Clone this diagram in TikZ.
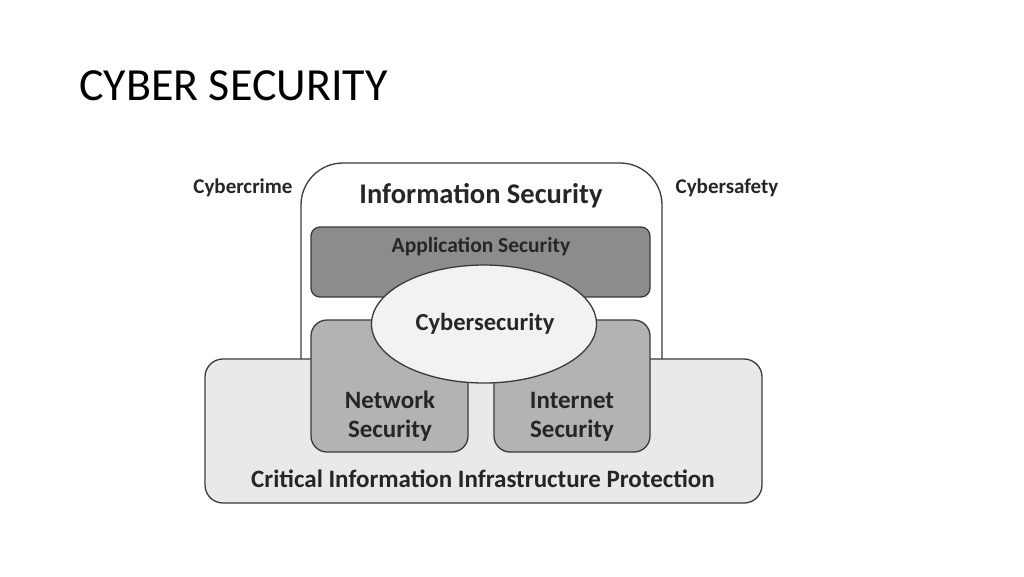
\documentclass[tikz,border=0pt]{standalone}
\usepackage{fontspec}
\setmainfont{Carlito}
\usetikzlibrary{shapes.geometric}
\definecolor{appgray}{HTML}{8C8C8C}
\definecolor{netgray}{HTML}{B3B3B5}
\definecolor{ciipgray}{HTML}{E9E9EC}
\definecolor{ellgray}{HTML}{F2F2F4}
\definecolor{edge}{HTML}{3A3A3A}
\tikzset{
  box/.style={draw=edge, line width=1.3pt, rounded corners=#1},
  lbl/.style={font=\bfseries\fontsize{21}{23}\selectfont, text=black!85, anchor=base, inner sep=0pt},
}
\begin{document}
\begin{tikzpicture}[x=1pt,y=-1pt]
\useasboundingbox (0,0) rectangle (1024,576);
% title
\node[anchor=base west, inner sep=0pt, font=\fontsize{46}{50}\selectfont] (title) at (79,100) {CYBER SECURITY};
% information security outer box
\draw[box=42pt, fill=white] (301,420) -- (301,163) -- (662,163) -- (662,420);
\node[lbl, font=\bfseries\fontsize{28.5}{30}\selectfont] (infosec) at (481,203) {Information Security};
% application security
\draw[box=9pt, fill=appgray] (311,227) rectangle (650,297);
\node[lbl, font=\bfseries\fontsize{21.5}{23}\selectfont] (appsec) at (481,252) {Application Security};
% CIIP
\draw[box=18pt, fill=ciipgray] (205,359) rectangle (762,503);
\node[lbl, font=\bfseries\fontsize{25}{27}\selectfont] (ciip) at (483,487) {Critical Information Infrastructure Protection};
% network / internet
\draw[box=16pt, fill=netgray] (311,320) rectangle (468,452);
\draw[box=16pt, fill=netgray] (494,320) rectangle (650,452);
\node[lbl, font=\bfseries\fontsize{25}{29}\selectfont] (net1) at (390,408) {Network};
\node[lbl, font=\bfseries\fontsize{25}{29}\selectfont] (net2) at (390,437) {Security};
\node[lbl, font=\bfseries\fontsize{25}{29}\selectfont] (int1) at (572,408) {Internet};
\node[lbl, font=\bfseries\fontsize{25}{29}\selectfont] (int2) at (572,437) {Security};
% cybersecurity ellipse
\node[ellipse, draw=edge, line width=1.3pt, fill=ellgray, minimum width=225pt, minimum height=118pt, inner sep=0pt] (cyber) at (484,324) {};
\node[lbl, font=\bfseries\fontsize{24.5}{26}\selectfont] (cybertext) at (485,330) {Cybersecurity};
% side labels
\node[lbl] (crime) at (243,193) {Cybercrime};
\node[lbl] (safety) at (727,193) {Cybersafety};
\end{tikzpicture}
\end{document}
